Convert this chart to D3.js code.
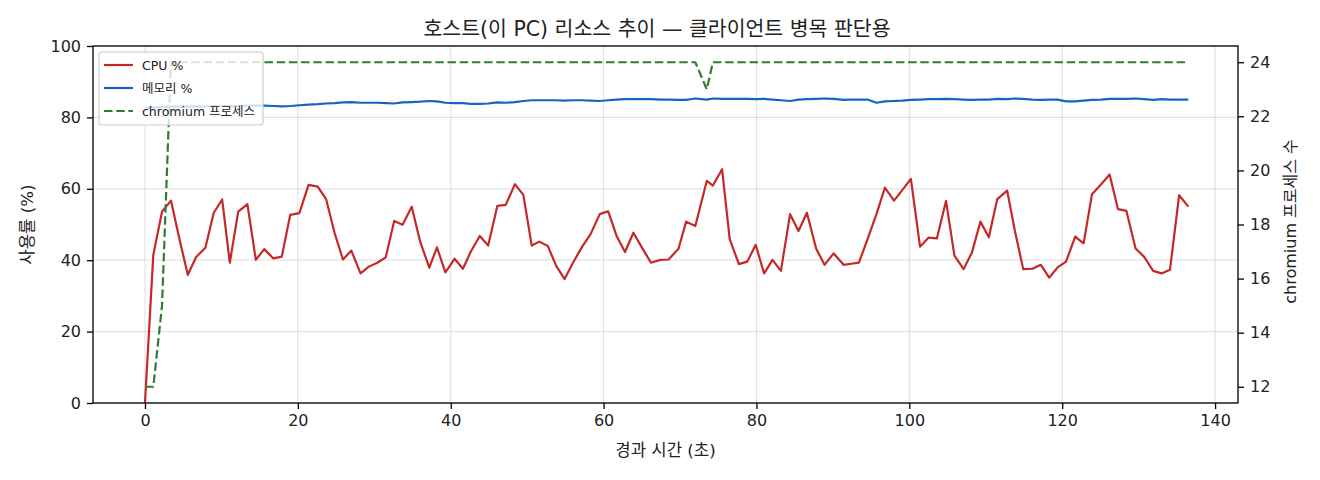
<!DOCTYPE html>
<html><head><meta charset="utf-8">
<script src="https://cdn.jsdelivr.net/npm/d3@7/dist/d3.min.js"></script>
<style>
html,body{margin:0;padding:0;background:#fff;}
svg text{font-family:"DejaVu Sans","Noto Sans CJK KR",sans-serif;fill:#222;}
</style></head>
<body><svg id="chart" width="1320" height="480"></svg>
<script>
const titleText = "호스트(이 PC) 리소스 추이 — 클라이언트 병목 판단용";
const xLabel = "경과 시간 (초)";
const yLabelLeft = "사용률 (%)";
const yLabelRight = "chromium 프로세스 수";
const seriesNames = ["CPU %", "메모리 %", "chromium 프로세스"];
const xTicks = [0, 20, 40, 60, 80, 100, 120, 140];
const yTicksLeft = [0, 20, 40, 60, 80, 100];
const yTicksRight = [12, 14, 16, 18, 20, 22, 24];

const times = [0.0,1.09,2.23,3.4,4.5,5.6,6.7,7.9,9.0,10.1,11.1,12.2,13.4,14.5,15.6,16.8,17.9,19.0,20.2,21.4,
22.6,23.7,24.8,25.9,27.0,28.2,29.3,30.4,31.5,32.6,33.7,34.9,36.0,37.2,38.2,39.3,40.5,41.6,42.6,43.8,
44.9,46.1,47.2,48.4,49.5,50.6,51.6,52.7,53.8,54.9,56.0,57.2,58.3,59.5,60.6,61.7,62.8,63.9,65.0,66.2,
67.4,68.5,69.8,70.8,72.0,73.5,74.3,75.5,76.5,77.7,78.8,79.9,81.0,82.1,83.2,84.4,85.5,86.6,87.8,88.9,
90.1,91.4,92.4,93.4,94.5,95.7,96.8,98.0,99.1,100.2,101.4,102.5,103.6,104.8,105.9,107.1,108.2,109.3,110.4,111.5,
112.8,113.8,114.9,116.1,117.2,118.3,119.4,120.5,121.7,122.8,123.9,125.1,126.2,127.3,128.4,129.6,130.7,131.9,133.0,134.1,
135.3,136.5];

const cpu = [0,41.5,53.6,56.7,46.0,35.9,40.9,43.5,53.3,57.0,39.3,53.6,55.7,40.1,43.1,40.5,41.0,52.7,53.2,61.1,
60.6,57.1,47.7,40.2,42.7,36.3,38.2,39.3,40.8,51.0,49.9,55.0,45.2,37.9,43.6,36.6,40.4,37.6,42.3,46.8,
44.1,55.2,55.5,61.3,58.3,44.1,45.2,44.0,38.4,34.7,39.3,43.8,47.3,52.9,53.7,46.8,42.3,47.7,43.6,39.3,
40.1,40.2,43.2,50.8,49.6,62.2,60.9,65.5,45.9,38.9,39.6,44.3,36.3,40.1,37.0,52.9,48.2,53.3,43.3,38.7,
41.9,38.7,39.0,39.3,45.7,52.9,60.3,56.7,59.7,62.8,43.8,46.3,46.1,56.6,41.3,37.5,42.2,50.8,46.4,57.1,
59.5,48.3,37.5,37.6,38.7,35.1,38.0,39.6,46.6,44.7,58.5,61.3,64.0,54.3,53.8,43.3,41.0,37.0,36.3,37.3,
58.2,55.0];

const mem = [82.7,82.8,82.9,83.0,83.0,83.1,83.0,83.1,83.2,83.2,83.1,83.2,83.3,83.3,83.3,83.2,83.1,83.2,83.4,83.6,
83.7,83.9,84.0,84.2,84.3,84.1,84.1,84.1,84.0,83.9,84.2,84.3,84.4,84.6,84.5,84.1,84.0,84.0,83.8,83.8,
83.9,84.2,84.1,84.3,84.6,84.8,84.8,84.8,84.8,84.7,84.8,84.8,84.7,84.6,84.8,85.0,85.1,85.1,85.1,85.1,
85.0,85.0,84.9,84.9,85.3,85.0,85.3,85.2,85.2,85.2,85.2,85.1,85.2,85.0,84.8,84.6,85.0,85.1,85.2,85.3,
85.2,84.9,85.0,85.0,85.0,84.1,84.5,84.6,84.7,84.9,85.0,85.1,85.1,85.2,85.1,85.0,84.9,85.0,85.0,85.2,
85.1,85.3,85.2,85.0,84.9,85.0,85.0,84.5,84.5,84.7,84.9,85.0,85.2,85.2,85.2,85.3,85.1,84.9,85.1,85.0,
85.0,85.0];

const procs = [12,12,15,24,24,24,24,24,24,24,24,24,24,24,24,24,24,24,24,24,
24,24,24,24,24,24,24,24,24,24,24,24,24,24,24,24,24,24,24,24,
24,24,24,24,24,24,24,24,24,24,24,24,24,24,24,24,24,24,24,24,
24,24,24,24,24,23,24,24,24,24,24,24,24,24,24,24,24,24,24,24,
24,24,24,24,24,24,24,24,24,24,24,24,24,24,24,24,24,24,24,24,
24,24,24,24,24,24,24,24,24,24,24,24,24,24,24,24,24,24,24,24,
24,24];

const colors = ["#c62828", "#1565c0", "#2e7d32"];

const svg = d3.select("#chart");
const W = 1320, H = 480;
const m = {left: 93, right: 82, top: 46, bottom: 77};
const iw = W - m.left - m.right, ih = H - m.top - m.bottom;

const x = d3.scaleLinear().domain([-6.8, 143.0]).range([m.left, m.left + iw]);
const yL = d3.scaleLinear().domain([0, 100]).range([m.top + ih, m.top]);
const yR = d3.scaleLinear().domain([11.4, 24.6]).range([m.top + ih, m.top]);

const g = svg.append("g");
// grid
g.append("g").selectAll("line").data(xTicks).join("line")
  .attr("x1", d => x(d)).attr("x2", d => x(d)).attr("y1", m.top).attr("y2", m.top + ih)
  .attr("stroke", "#b0b0b0").attr("stroke-opacity", 0.35).attr("stroke-width", 1.2);
g.append("g").selectAll("line").data(yTicksLeft).join("line")
  .attr("y1", d => yL(d)).attr("y2", d => yL(d)).attr("x1", m.left).attr("x2", m.left + iw)
  .attr("stroke", "#b0b0b0").attr("stroke-opacity", 0.35).attr("stroke-width", 1.2);

const idx = d3.range(times.length);
svg.append("clipPath").attr("id", "clip").append("rect")
  .attr("x", m.left).attr("y", m.top).attr("width", iw).attr("height", ih);

const lineL = arr => d3.line().x(i => x(times[i])).y(i => yL(arr[i]));
const lineR = arr => d3.line().x(i => x(times[i])).y(i => yR(arr[i]));

const plot = svg.append("g").attr("clip-path", "url(#clip)");
plot.append("path").attr("d", lineL(cpu)(idx)).attr("fill", "none")
  .attr("stroke", colors[0]).attr("stroke-width", 2.2).attr("stroke-linejoin", "round");
plot.append("path").attr("d", lineL(mem)(idx)).attr("fill", "none")
  .attr("stroke", colors[1]).attr("stroke-width", 2.2).attr("stroke-linejoin", "round");
plot.append("path").attr("d", lineR(procs)(idx)).attr("fill", "none")
  .attr("stroke", colors[2]).attr("stroke-width", 2.2).attr("stroke-dasharray", "8.5,3.7")
  .attr("stroke-linejoin", "round");

// axes
const fs = "16px";
const axB = d3.axisBottom(x).tickValues(xTicks).tickSize(6).tickPadding(6);
const axL = d3.axisLeft(yL).tickValues(yTicksLeft).tickSize(6).tickPadding(6);
const axR = d3.axisRight(yR).tickValues(yTicksRight).tickSize(6).tickPadding(6);
function style(sel) {
  sel.select(".domain").remove();
  sel.selectAll("line").attr("stroke", "#000").attr("stroke-width", 1.3);
  sel.selectAll("text").style("font-size", fs).style("font-family", '"DejaVu Sans","Noto Sans CJK KR",sans-serif').attr("fill", "#222");
}
svg.append("g").attr("transform", `translate(0,${m.top + ih})`).call(axB).call(style);
svg.append("g").attr("transform", `translate(${m.left},0)`).call(axL).call(style);
svg.append("g").attr("transform", `translate(${m.left + iw},0)`).call(axR).call(style);

// frame
svg.append("rect").attr("x", m.left).attr("y", m.top).attr("width", iw).attr("height", ih)
  .attr("fill", "none").attr("stroke", "#000").attr("stroke-width", 1.3);

// labels
svg.append("text").attr("x", 657).attr("y", 36).attr("text-anchor", "middle")
  .style("font-size", "20.5px").text(titleText);
svg.append("text").attr("x", m.left + iw / 2).attr("y", 456).attr("text-anchor", "middle")
  .style("font-size", "16.7px").text(xLabel);
svg.append("text").attr("transform", `translate(33,${m.top + ih / 2}) rotate(-90)`).attr("text-anchor", "middle")
  .style("font-size", "16.7px").text(yLabelLeft);
svg.append("text").attr("transform", `translate(1296,${m.top + ih / 2 - 3}) rotate(-90)`).attr("text-anchor", "middle")
  .style("font-size", "16px").text(yLabelRight);

// legend
const lg = svg.append("g");
lg.append("rect").attr("x", 99).attr("y", 52).attr("width", 164).attr("height", 73).attr("rx", 3)
  .attr("fill", "#fff").attr("fill-opacity", 0.8).attr("stroke", "#cccccc").attr("stroke-width", 1.2);
seriesNames.forEach((name, i) => {
  const yy = 65 + i * 23;
  lg.append("line").attr("x1", 104).attr("x2", 133).attr("y1", yy).attr("y2", yy)
    .attr("stroke", colors[i]).attr("stroke-width", 2.2)
    .attr("stroke-dasharray", i === 2 ? "8.5,3.7" : null);
  lg.append("text").attr("x", 142).attr("y", yy + 4.5).style("font-size", "12.5px").text(name);
});
</script></body></html>
